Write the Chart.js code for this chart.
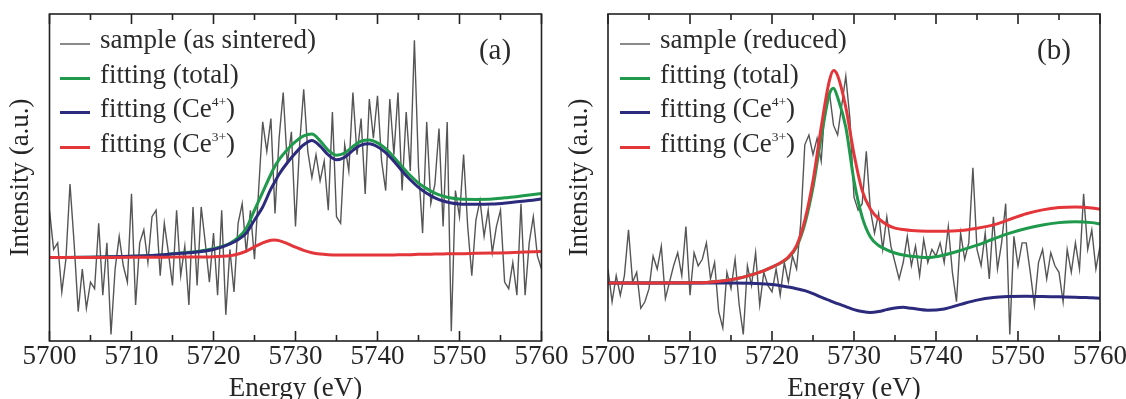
<!DOCTYPE html>
<html>
<head>
<meta charset="utf-8">
<script src="https://cdn.jsdelivr.net/npm/chart.js@4.4.1/dist/chart.umd.min.js"></script>
<style>
  html, body { margin: 0; padding: 0; background: #fff; }
  body { width: 1126px; height: 399px; position: relative; overflow: hidden;
         font-family: 'Liberation Serif', 'Times New Roman', serif; color: #2b2b2b; }
  canvas { position: absolute; top: 0; }
  #cA { left: 0; }
  #cB { left: 560px; }
  .legend { position: absolute; top: 22px; font-size: 27px; line-height: 34.5px; white-space: nowrap; z-index: 2; }
  .legend .row { height: 34.5px; }
  .legend .sw { display: inline-block; width: 30px; vertical-align: 3px; margin-right: 10px; }
  .legend sup { font-size: 0.5em; vertical-align: 0.8em; line-height: 0; }
  .plabel { position: absolute; top: 35px; font-size: 29px; line-height: 29px; transform: translateX(-50%); z-index: 2; }
</style>
</head>
<body>
<canvas id="cA" width="580" height="399"></canvas>
<canvas id="cB" width="580" height="399"></canvas>
<div class="legend" id="legA" style="left:60px"></div>
<div class="legend" id="legB" style="left:620px"></div>
<div class="plabel" style="left:495px">(a)</div>
<div class="plabel" style="left:1054px">(b)</div>
<script>
// ---------- data ----------
const xTicks = [5700, 5710, 5720, 5730, 5740, 5750, 5760];

const energySample = [
  5700.0,5700.5,5701.0,5701.5,5702.0,5702.5,5703.0,5703.5,5704.0,5704.5,
  5705.0,5705.5,5706.0,5706.5,5707.0,5707.5,5708.0,5708.5,5709.0,5709.5,
  5710.0,5710.5,5711.0,5711.5,5712.0,5712.5,5713.0,5713.5,5714.0,5714.5,
  5715.0,5715.5,5716.0,5716.5,5717.0,5717.5,5718.0,5718.5,5719.0,5719.5,
  5720.0,5720.5,5721.0,5721.5,5722.0,5722.5,5723.0,5723.5,5724.0,5724.5,
  5725.0,5725.5,5726.0,5726.5,5727.0,5727.5,5728.0,5728.5,5729.0,5729.5,
  5730.0,5730.5,5731.0,5731.5,5732.0,5732.5,5733.0,5733.5,5734.0,5734.5,
  5735.0,5735.5,5736.0,5736.5,5737.0,5737.5,5738.0,5738.5,5739.0,5739.5,
  5740.0,5740.5,5741.0,5741.5,5742.0,5742.5,5743.0,5743.5,5744.0,5744.5,
  5745.0,5745.5,5746.0,5746.5,5747.0,5747.5,5748.0,5748.5,5749.0,5749.5,
  5750.0,5750.5,5751.0,5751.5,5752.0,5752.5,5753.0,5753.5,5754.0,5754.5,
  5755.0,5755.5,5756.0,5756.5,5757.0,5757.5,5758.0,5758.5,5759.0,5759.5,
  5760.0
];

// panel (a): as sintered
const sampleA = [
  40,28,30,15,25,48,30,9,22,10,
  18,16,36,14,30,2,22,32,23,18,
  45,11,30,34,24,38,40,20,36,27,
  17,40,20,29,11,41,17,41,30,18,
  33,14,40,8,28,15,36,42,27,40,
  25,46,67,58,68,39,62,76,54,64,
  35,60,77,58,50,57,49,55,40,70,
  38,36,60,52,76,57,68,45,74,62,
  75,55,46,74,57,76,46,70,52,92,
  53,33,67,42,48,65,35,67,3,46,
  38,57,35,20,37,43,32,40,27,35,
  40,18,16,24,14,42,14,30,38,26,
  22
];
const fitEnergyA = [5700,5705,5710,5714,5716,5718,5720,5721,5722,5723,5724,5725,5726,5727,5727.5,5728,5729,5730,5731,5732,5733,5734,5735,5736,5737,5738,5739,5740,5741,5742,5743,5744,5745,5746,5747,5748,5749,5750,5752,5754,5756,5758,5760];
const totalA = [25.5,25.6,25.9,26.4,26.9,27.4,28.2,28.9,29.9,31.6,34.5,40.0,45.5,51.0,53.5,55.5,58.5,61.0,62.7,63.3,61.2,58.3,56.8,57.5,59.5,61.1,61.5,60.6,58.8,56.2,53.3,50.6,48.3,46.6,45.2,44.3,43.7,43.4,43.3,43.4,43.9,44.5,45.1];
const ce4A   = [25.5,25.6,25.9,26.4,26.8,27.2,28.0,28.7,29.7,31.0,33.0,37.0,41.0,46.5,48.8,51.0,54.5,57.5,60.0,61.3,59.6,56.9,55.4,56.2,58.3,59.9,60.3,59.4,57.6,55.0,52.0,49.3,47.0,45.2,43.8,42.8,42.2,41.9,41.8,41.9,42.3,42.8,43.4];
const ce3A   = [25.5,25.5,25.6,25.6,25.7,25.7,25.8,25.9,26.1,26.6,27.5,28.8,30.0,30.8,30.9,30.7,29.8,28.7,27.7,27.0,26.6,26.4,26.3,26.3,26.3,26.3,26.3,26.3,26.3,26.3,26.4,26.4,26.5,26.5,26.6,26.6,26.7,26.7,26.8,26.9,27.0,27.2,27.4];

// panel (b): reduced
const sampleB = [
  22,12,20,14,20,34,18,21,10,12,
  16,26,22,29,13,18,23,27,20,35,
  14,27,23,25,30,19,24,9,4,21,
  16,25,11,2,23,17,27,11,21,17,
  15,22,14,24,18,26,22,36,60,63,
  57,62,55,73,76,66,63,72,81,68,
  44,40,42,58,40,33,39,28,38,29,
  24,19,24,32,23,29,20,31,24,28,
  26,30,24,35,21,12,33,25,30,53,
  28,23,33,19,38,22,30,42,2,32,
  23,30,30,21,11,24,28,19,27,23,
  21,12,28,21,30,22,45,28,34,22,
  29
];
const fitEnergyB = [5700,5705,5710,5712,5715,5718,5720,5722,5723,5724,5725,5726,5727,5727.5,5728,5729,5730,5731,5732,5733,5734,5735,5736,5737,5739,5741,5743,5745,5747,5749,5751,5753,5755,5757,5759,5760];
const totalB = [17.7,17.7,17.8,17.9,18.7,20.6,22.6,25.5,28.8,35.8,47.0,62.3,75.5,77.3,74.5,65.4,49.0,37.9,31.8,29.2,27.9,26.9,26.3,25.9,25.5,26.3,27.7,29.3,31.2,33.0,34.4,35.5,36.2,36.5,36.2,35.8];
const ce4B   = [17.7,17.7,17.7,17.7,17.7,17.6,17.3,16.5,16.0,15.4,14.5,13.4,12.4,11.9,11.4,10.5,9.6,9.0,8.7,9.0,9.6,10.1,10.3,10.0,9.4,9.8,11.2,12.5,13.3,13.6,13.7,13.6,13.5,13.4,13.2,13.1];
const ce3B   = [17.7,17.7,17.8,17.9,18.7,20.6,22.6,25.7,29.2,36.9,49.0,65.4,79.6,82.7,81.2,71.5,57.2,46.0,40.4,37.4,35.6,34.5,34.1,33.8,33.6,33.6,33.8,34.5,35.5,37.2,38.9,40.1,40.8,41.0,40.7,40.3];

const labelsA = ['sample (as sintered)', 'fitting (total)', 'fitting (Ce⁴⁺)', 'fitting (Ce³⁺)'];
const labelsB = ['sample (reduced)', 'fitting (total)', 'fitting (Ce⁴⁺)', 'fitting (Ce³⁺)'];

const COLORS = { sample: '#555555', total: '#1f9a4c', ce4: '#2c2a7c', ce3: '#e4363a' };
const TEXT = '#262626';
const FONT = 'Liberation Serif';

// ---------- helpers ----------
function toXY(xs, ys) { return xs.map((x, i) => ({ x: x, y: ys[i] })); }

const frameTicks = {
  id: 'frameTicks',
  afterDatasetsDraw(chart) {
    const { ctx, chartArea: a, scales: { x } } = chart;
    ctx.save();
    ctx.strokeStyle = '#222';
    ctx.lineWidth = 1.6;
    ctx.beginPath();
    const majors = x.ticks.map(t => t.value);
    majors.forEach((v, i) => {
      const px = x.getPixelForValue(v);
      ctx.moveTo(px, a.bottom); ctx.lineTo(px, a.bottom - 10);
      ctx.moveTo(px, a.top); ctx.lineTo(px, a.top + 10);
      if (i < majors.length - 1) {
        const pm = x.getPixelForValue((v + majors[i + 1]) / 2);
        ctx.moveTo(pm, a.bottom); ctx.lineTo(pm, a.bottom - 6);
        ctx.moveTo(pm, a.top); ctx.lineTo(pm, a.top + 6);
      }
    });
    ctx.stroke();
    ctx.strokeRect(a.left, a.top, a.right - a.left, a.bottom - a.top);
    ctx.restore();
  }
};

function buildChart(canvasId, cfg) {
  return new Chart(document.getElementById(canvasId), {
    type: 'line',
    data: {
      datasets: [
        { label: cfg.labels[0], data: toXY(energySample, cfg.sample), borderColor: COLORS.sample,
          borderWidth: 1.4, pointRadius: 0, tension: 0, order: 4 },
        { label: cfg.labels[1], data: toXY(cfg.fitE, cfg.total), borderColor: COLORS.total,
          borderWidth: 3, pointRadius: 0, cubicInterpolationMode: 'monotone', order: 3 },
        { label: cfg.labels[2], data: toXY(cfg.fitE, cfg.ce4), borderColor: COLORS.ce4,
          borderWidth: 3, pointRadius: 0, cubicInterpolationMode: 'monotone', order: 2 },
        { label: cfg.labels[3], data: toXY(cfg.fitE, cfg.ce3), borderColor: COLORS.ce3,
          borderWidth: 3, pointRadius: 0, cubicInterpolationMode: 'monotone', order: 1 }
      ]
    },
    options: {
      responsive: false,
      animation: false,
      devicePixelRatio: 1,
      layout: { padding: { left: 0, top: 14, right: cfg.padRight, bottom: 0 } },
      plugins: { legend: { display: false }, tooltip: { enabled: false } },
      scales: {
        x: {
          type: 'linear', min: xTicks[0], max: xTicks[xTicks.length - 1],
          grid: { display: false, drawTicks: false },
          border: { display: false },
          afterBuildTicks: s => { s.ticks = xTicks.map(v => ({ value: v })); },
          ticks: { padding: 0, color: TEXT, font: { family: FONT, size: 27 }, maxRotation: 0,
                   autoSkip: false, callback: v => String(v) },
          title: { display: true, text: 'Energy (eV)', color: TEXT, font: { family: FONT, size: 27 },
                   padding: { top: 0, bottom: -6 } },
          afterFit: s => { s.height = 58; }
        },
        y: {
          min: 0, max: 100,
          grid: { display: false, drawTicks: false },
          border: { display: false },
          ticks: { display: false },
          title: { display: true, text: 'Intensity (a.u.)', color: TEXT, font: { family: FONT, size: 27 },
                   padding: { top: cfg.yTitlePad, bottom: 0 } },
          afterFit: s => { s.width = cfg.plotLeft; }
        }
      }
    },
    plugins: [frameTicks]
  });
}

function fmtLabel(t) {
  const map = { '⁰':'0','¹':'1','²':'2','³':'3','⁴':'4','⁵':'5','⁶':'6','⁷':'7','⁸':'8','⁹':'9','⁺':'+' };
  return t.replace(/[⁰¹²³⁴⁵⁶⁷⁸⁹⁺]+/g, m => '<sup>' + m.split('').map(c => map[c]).join('') + '</sup>');
}
function buildLegend(chart, el) {
  chart.data.datasets.forEach(ds => {
    const row = document.createElement('div');
    row.className = 'row';
    const h = ds.borderWidth >= 2 ? 3 : 2;
    row.innerHTML = '<span class="sw" style="height:' + h + 'px;background:' +
      (ds.borderWidth >= 2 ? ds.borderColor : '#8a8a8a') + '"></span>' + fmtLabel(ds.label);
    el.appendChild(row);
  });
}

const chartA = buildChart('cA', { labels: labelsA, sample: sampleA, fitE: fitEnergyA, total: totalA, ce4: ce4A, ce3: ce3A,
                                  plotLeft: 49.5, padRight: 38.5, yTitlePad: 5 });
const chartB = buildChart('cB', { labels: labelsB, sample: sampleB, fitE: fitEnergyB, total: totalB, ce4: ce4B, ce3: ce3B,
                                  plotLeft: 48, padRight: 40, yTitlePad: 4 });
buildLegend(chartA, document.getElementById('legA'));
buildLegend(chartB, document.getElementById('legB'));
</script>
</body>
</html>
